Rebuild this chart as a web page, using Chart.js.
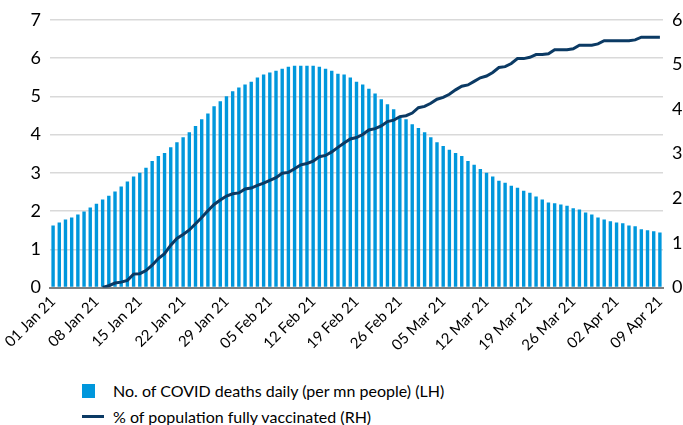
<!DOCTYPE html>
<html>
<head>
<meta charset="utf-8">
<script src="https://cdn.jsdelivr.net/npm/chart.js@4.4.1/dist/chart.umd.min.js"></script>
<style>
  html, body { margin: 0; padding: 0; background: #fff; width: 683px; height: 425px; overflow: hidden; }
  #wrap { position: absolute; left: 0; top: 0; width: 705px; height: 372px; }
  .legend { position: absolute; left: 82px; font-family: Lato, "Noto Sans", sans-serif; font-size: 16px; color: #000; }
  .legend .item { position: absolute; left: 0; white-space: nowrap; height: 20px; line-height: 20px; }
  .legend .box { position: absolute; left: 0; top: 3px; width: 13px; height: 14px; background: #0097DC; }
  .legend .ln { position: absolute; left: 0; top: 8px; width: 22px; height: 3px; background: #0B3A64; }
  .legend .txt { position: absolute; left: 31px; top: 0; }
</style>
</head>
<body>
<div id="wrap"><canvas id="js--chart--covid"></canvas></div>
<div class="legend">
  <div class="item" style="top:381px"><span class="box"></span><span class="txt">No. of COVID deaths daily (per mn people) (LH)</span></div>
  <div class="item" style="top:407px"><span class="ln"></span><span class="txt">% of population fully vaccinated (RH)</span></div>
</div>
<script>
// daily deaths per mn people, 01 Jan 21 - 09 Apr 21
const deaths = [
  1.62, 1.70, 1.78, 1.83, 1.91, 1.99, 2.09, 2.19, 2.30, 2.40, 2.51, 2.64,
  2.77, 2.90, 3.00, 3.13, 3.31, 3.44, 3.52, 3.67, 3.80, 3.93, 4.06, 4.22, 4.40,
  4.55, 4.74, 4.87, 5.00, 5.13, 5.23, 5.31, 5.38, 5.49, 5.57, 5.62,
  5.67, 5.72, 5.77, 5.80, 5.80, 5.80, 5.80, 5.77, 5.72, 5.67, 5.59, 5.57,
  5.49, 5.38, 5.31, 5.20, 5.07, 4.92, 4.79, 4.66, 4.48, 4.40, 4.27, 4.17,
  4.06, 3.93, 3.80, 3.70, 3.60, 3.52, 3.44, 3.31, 3.21, 3.10, 3.00, 2.90, 2.79,
  2.74, 2.66, 2.61, 2.53, 2.48, 2.38, 2.30, 2.22, 2.20, 2.17, 2.14, 2.07, 2.04,
  1.96, 1.91, 1.83, 1.78, 1.73, 1.70, 1.68, 1.62, 1.60, 1.52, 1.50, 1.47, 1.44
];

// % of population fully vaccinated
const vaccinated = [
  null, null, null, null, null, null, null, null,
  0.0, 0.4, 1.0, 1.2, 1.6, 3.0, 3.1, 3.8, 5.0, 6.5, 7.6, 9.5,
  11.0, 11.9, 12.9, 14.3, 15.7, 17.2, 18.6, 19.6, 20.5, 21.0, 21.2,
  22.1, 22.3, 22.9, 23.4, 24.0, 24.6, 25.6, 25.8, 26.6, 27.5, 27.8,
  28.3, 29.3, 29.6, 30.4, 31.4, 32.4, 33.3, 33.6, 34.3, 35.3, 35.6,
  36.2, 37.2, 37.5, 38.3, 38.5, 39.1, 40.3, 40.6, 41.3, 42.2, 42.6,
  43.3, 44.3, 45.1, 45.4, 46.2, 47.0, 47.4, 48.2, 49.3, 49.5, 50.2,
  51.3, 51.3, 51.6, 52.2, 52.2, 52.4, 53.3, 53.3, 53.3, 53.5, 54.3,
  54.3, 54.3, 54.6, 55.3, 55.3, 55.3, 55.3, 55.3, 55.5, 56.1, 56.1,
  56.1, 56.1
];

const monthNames = ['Jan', 'Feb', 'Mar', 'Apr'];
const days = [];
for (let i = 0; i < deaths.length; i++) {
  const d = new Date(2021, 0, 1 + i);
  days.push(d.getDate().toString().padStart(2, '0') + ' ' + monthNames[d.getMonth()] + ' 21');
}

const tickFont = { family: 'Lato, "Noto Sans", sans-serif', size: 18 };
const ctx = document.getElementById('js--chart--covid');

new Chart(ctx, {
  data: {
    labels: days,
    datasets: [
      {
        type: 'line',
        label: '% of population fully vaccinated (RH)',
        data: vaccinated,
        yAxisID: 'y2',
        borderColor: '#0B3A64',
        borderWidth: 3,
        pointRadius: 0,
        tension: 0,
        order: 0
      },
      {
        type: 'bar',
        label: 'No. of COVID deaths daily (per mn people) (LH)',
        data: deaths,
        yAxisID: 'y',
        backgroundColor: '#0097DC',
        barPercentage: 0.55,
        categoryPercentage: 1.0,
        order: 1
      }
    ]
  },
  options: {
    responsive: true,
    maintainAspectRatio: false,
    animation: false,
    layout: { padding: { top: 18, bottom: 0, left: 0, right: 0 } },
    plugins: {
      legend: { display: false },
      tooltip: { enabled: false }
    },
    scales: {
      x: {
        grid: { display: false, drawTicks: false },
        border: { display: true, color: '#7f7f7f', width: 2 },
        ticks: {
          autoSkip: false,
          maxRotation: 45,
          minRotation: 45,
          padding: 5,
          color: '#000',
          font: { family: 'Lato, "Noto Sans", sans-serif', size: 15 },
          callback: (value, index) => index % 7 === 0 ? days[index] : null
        },
        afterFit: scale => { scale.height = 84.5; }
      },
      y: {
        position: 'left',
        min: 0,
        max: 7,
        grid: { color: '#d9d9d9', lineWidth: 1.5, drawTicks: false },
        border: { display: false },
        ticks: { stepSize: 1, padding: 9, color: '#000', font: tickFont },
        afterFit: scale => { scale.width = 50; }
      },
      y2: {
        position: 'right',
        min: 0,
        max: 60,
        grid: { display: false, drawTicks: false },
        border: { display: false },
        ticks: { stepSize: 10, padding: 9, color: '#000', font: tickFont },
        afterFit: scale => { scale.width = 42; }
      }
    }
  }
});
</script>
</body>
</html>
